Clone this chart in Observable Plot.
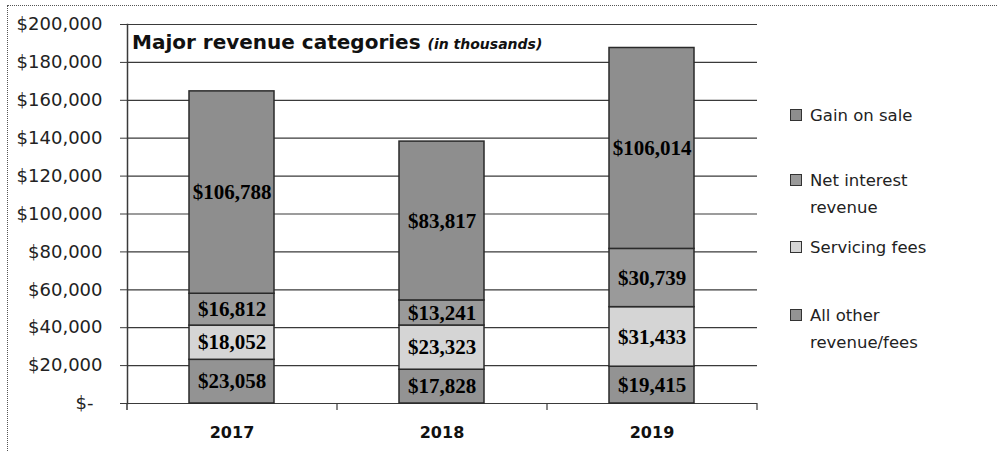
<!DOCTYPE html>
<html>
<head>
<meta charset="utf-8">
<script src="https://cdn.jsdelivr.net/npm/d3@7"></script>
<script src="https://cdn.jsdelivr.net/npm/@observablehq/plot@0.6"></script>
<style>
  html, body { margin: 0; padding: 0; background: #fff; }
  #wrap { position: relative; width: 997px; height: 451px; overflow: hidden; font-family: "DejaVu Sans", sans-serif; }
  #frame { position: absolute; left: 7px; top: 5px; width: 1000px; height: 470px; border: 1.5px dotted #555; box-sizing: border-box; pointer-events: none; }
  #title { position: absolute; left: 132px; top: 32px; font-size: 20px; line-height: 20px; font-weight: bold; color: #111; white-space: nowrap; }
  #title i { font-size: 14px; }
  .leg { position: absolute; left: 790px; font-size: 16.5px; line-height: 27px; color: #222; }
  .leg .sw { position: absolute; left: 0; top: 7px; width: 12px; height: 12px; border: 1px solid #333; box-sizing: border-box; }
  .leg .tx { margin-left: 20px; white-space: nowrap; }
</style>
</head>
<body>
<div id="wrap">
  <div id="chart"></div>
  <div id="title">Major revenue categories <i>(in thousands)</i></div>
  <div id="legend"></div>
  <div id="frame"></div>
</div>
<script>
const years = ["2017", "2018", "2019"];
const series = ["All other revenue/fees", "Servicing fees", "Net interest revenue", "Gain on sale"];
const allOther = [23058, 17828, 19415];
const servicing = [18052, 23323, 31433];
const netInterest = [16812, 13241, 30739];
const gainOnSale = [106788, 83817, 106014];
const yTicks = [0, 20000, 40000, 60000, 80000, 100000, 120000, 140000, 160000, 180000, 200000];
const colors = ["#939393", "#d5d5d5", "#9a9a9a", "#8e8e8e"];
const legendOrder = ["Gain on sale", "Net interest revenue", "Servicing fees", "All other revenue/fees"];
const legendLines = [["Gain on sale"], ["Net interest", "revenue"], ["Servicing fees"], ["All other", "revenue/fees"]];

const valuesBySeries = [allOther, servicing, netInterest, gainOnSale];
const rows = [];
series.forEach((s, i) => years.forEach((y, j) => rows.push({year: y, series: s, value: valuesBySeries[i][j]})));

const W = 997, H = 451, ML = 127, MR = 240, MT = 24, MB = 48;
const STEP = (W - ML - MR) / years.length;
const fmt = d3.format(",");

const chart = Plot.plot({
  width: W, height: H,
  marginLeft: ML, marginRight: MR, marginTop: MT, marginBottom: MB,
  style: {fontFamily: "DejaVu Sans, sans-serif", background: "transparent", overflow: "visible"},
  x: {domain: years, paddingInner: 0.595, paddingOuter: 0.2975, axis: null},
  y: {domain: [0, 200000], axis: null},
  color: {domain: series, range: colors},
  marks: [
    Plot.ruleY(yTicks, {stroke: "#3a3a3a", strokeWidth: 1.2}),
    Plot.axisY({ticks: yTicks, label: null, tickSize: 7, tickPadding: 18, fontSize: 18, stroke: "#3a3a3a", fill: "#222",
      tickFormat: d => d === 0 ? "$-\u2002" : "$" + fmt(d)}),
    Plot.frame({anchor: "left", stroke: "#3a3a3a", strokeWidth: 1.5}),
    Plot.ruleX([years[0]], {x: d => d, dx: -STEP / 2, y1: 0, y2: 0, insetBottom: -7, stroke: "#3a3a3a", strokeWidth: 1.5}),
    Plot.ruleX(years, {x: d => d, dx: STEP / 2, y1: 0, y2: 0, insetBottom: -7, stroke: "#3a3a3a", strokeWidth: 1.2}),
    Plot.barY(rows, {x: "year", y: "value", fill: "series", stroke: "#2a2a2a", strokeWidth: 1.5}),
    Plot.text(rows, Plot.stackY({x: "year", y: "value", z: "series",
      text: d => "$" + fmt(d.value),
      fontFamily: "Liberation Serif, serif", fontWeight: "bold", fontSize: 21, fill: "#000"})),
    Plot.axisX({label: null, tickSize: 0, tickPadding: 23, fontSize: 16, fontWeight: "bold", fill: "#111"})
  ]
});
document.getElementById("chart").appendChild(chart);

const legendTops = [102, 167, 234, 302];
const legend = document.getElementById("legend");
legendOrder.forEach((s, i) => {
  const el = document.createElement("div");
  el.className = "leg";
  el.style.top = legendTops[i] + "px";
  const sw = document.createElement("div");
  sw.className = "sw";
  sw.style.background = colors[series.indexOf(s)];
  el.appendChild(sw);
  legendLines[i].forEach(line => {
    const t = document.createElement("div");
    t.className = "tx";
    t.textContent = line;
    el.appendChild(t);
  });
  legend.appendChild(el);
});
</script>
</body>
</html>
